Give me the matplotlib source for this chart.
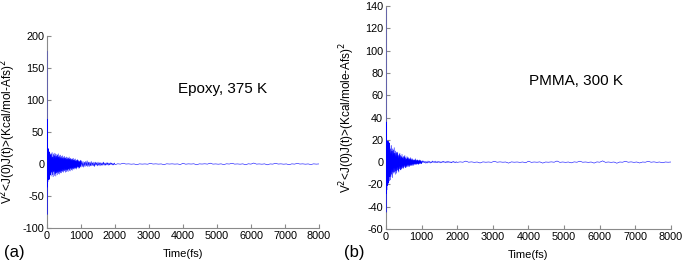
import numpy as np
import matplotlib
matplotlib.use("Agg")
import matplotlib.pyplot as plt

plt.rcParams['font.family'] = ['Liberation Sans', 'DejaVu Sans']
plt.rcParams['axes.unicode_minus'] = False

# ---- datos (a) Epoxy, 375 K ----
t_a_inicio = [0, 2, 5, 8, 12, 16, 20, 25, 30, 35, 40, 45, 50, 55, 60, 65, 70, 75, 80, 85, 90, 95, 100]
v_a_inicio = [176, -79, 70, -36, 26, -33, 22, -28, 20, -25, 18, -22, 24, -20, 17, -18, 15, -24, 19, -14, 16, -17, 14]

t_a_medio = list(range(110, 1001, 10))
v_a_medio = [12, -19, 16, -13, 18, -17, 11, -20, 15, -12,
             17, -18, 13, -15, 16, -19, 12, -14, 15, -17,
             14, -13, 16, -15, 11, -16, 13, -12, 14, -14,
             10, -14, 12, -11, 13, -12, 9, -13, 11, -10,
             12, -11, 9, -13, 10, -9, 11, -12, 8, -10,
             10, -12, 9, -8, 11, -10, 8, -11, 9, -7,
             8, -9, 7, -10, 8, -7, 9, -8, 6, -8,
             7, -6, 8, -7, 5, -8, 6, -6, 7, -5,
             6, -5, 5, -7, 4, -6, 5, -4, 6, -5]

t_a_tarde = list(range(1020, 2001, 20))
v_a_tarde = [5, -4, 4, -5, 3, -4, 4, -3, 5, -4,
             3, -4, 3, -3, 4, -3, 2, -3, 3, -4,
             3, -2, 2, -3, 3, -2, 2, -3, 2, -2,
             2, -2, 3, -2, 1.5, -2, 2, -1.5, 2, -2,
             1.5, -1.5, 2, -1, 1.5, -1.5, 1, -1.5, 1.5, -1]

t_a_final = list(range(2080, 8001, 80))
v_a_final = [0.3, -0.2, 1.2, -0.1, 0.2, -0.3, 0.1, -1.1, 0.2, -0.2,
             0.1, -0.3, 0.9, -0.1, 0.2, -0.2, 0.1, -1.0, 0.3, -0.1,
             0.2, -0.2, 0.1, -0.8, 1.0, -0.3, 0.2, -0.1, 0.3, -1.2,
             0.2, -0.1, 0.3, -0.2, 1.3, -0.2, 0.1, -0.3, 0.2, -0.9,
             0.3, -0.1, 1.1, -0.2, 0.1, -0.3, 0.2, -1.2, 0.3, -0.2,
             1.5, -0.2, 0.1, -0.3, 0.2, -1.3, 0.1, -0.2, 1.0, -0.1,
             0.2, -0.3, 0.1, -1.1, 0.2, -0.2, 0.9, -0.1, 0.2, -0.3,
             0.1, -0.8, 0.2, -0.2, 0.1]

# ---- datos (b) PMMA, 300 K ----
t_b_inicio = [0, 2, 5, 8, 12, 16, 20, 25, 30, 35, 40, 45, 50, 55, 60, 65, 70, 75, 80, 85, 90, 95, 100]
v_b_inicio = [138, -45, 36, -28, 20, -22, 18, -25, 19, -18, 17, -21, 18, -16, 19, -19, 16, -14, 18, -17, 15, -13, 17]

t_b_medio = list(range(110, 1001, 10))
v_b_medio = [14, -16, 12, -13, 15, -11, 10, -14, 12, -9,
             11, -10, 13, -9, 8, -11, 10, -8, 9, -10,
             8, -7, 9, -8, 6, -9, 7, -6, 8, -7,
             6, -7, 5, -6, 7, -5, 4, -6, 5, -5,
             5, -4, 6, -5, 4, -5, 3, -4, 5, -4,
             4, -3, 4, -4, 3, -4, 3, -3, 4, -3,
             3, -3, 2, -3, 3, -2, 2, -3, 2, -2,
             2, -2, 3, -2, 1.5, -2, 2, -1.5, 2, -2,
             1.5, -2, 1.5, -1.5, 2, -1, 1.5, -1.5, 1, -1.5]

t_b_tarde = list(range(1020, 2001, 20))
v_b_tarde = [1.2, -0.6, 1.0, -0.5, 0.7, -1.1, 0.4, -0.8, 1.0, -0.4,
             0.6, -0.9, 0.3, -0.5, 1.0, -0.4, 0.5, -0.3, 0.9, -0.6,
             0.3, -0.5, 0.8, -0.2, 0.4, -0.7, 0.3, -0.4, 0.6, -0.3,
             0.7, -0.2, 0.3, -0.6, 0.4, -0.3, 0.8, -0.2, 0.3, -0.5,
             0.2, -0.6, 0.4, -0.2, 0.6, -0.3, 0.2, -0.5, 0.3, -0.2]

t_b_final = list(range(2080, 8001, 80))
v_b_final = [0.2, -0.1, 0.9, -0.1, 0.2, -0.2, 0.1, -0.8, 0.2, -0.1,
             0.1, -0.2, 0.7, -0.1, 0.2, -0.1, 0.1, -0.9, 0.2, -0.1,
             0.1, -0.2, 0.1, -0.6, 0.8, -0.2, 0.1, -0.1, 0.2, -0.9,
             0.1, -0.1, 0.2, -0.1, 1.0, -0.2, 0.1, -0.2, 0.1, -0.7,
             0.2, -0.1, 0.8, -0.1, 0.1, -0.2, 0.1, -0.9, 0.2, -0.1,
             1.1, -0.2, 0.1, -0.2, 0.1, -1.0, 0.1, -0.1, 0.7, -0.1,
             0.2, -0.2, 0.1, -0.8, 0.1, -0.1, 0.7, -0.1, 0.2, -0.2,
             0.1, -0.6, 0.1, -0.1, 0.1]

t_a = t_a_inicio + t_a_medio + t_a_tarde + t_a_final
v_a = v_a_inicio + v_a_medio + v_a_tarde + v_a_final
t_b = t_b_inicio + t_b_medio + t_b_tarde + t_b_final
v_b = v_b_inicio + v_b_medio + v_b_tarde + v_b_final

gris = '#8a8a8a'
azul = '#0000ff'

fig = plt.figure(figsize=(6.84, 2.66), dpi=100)
ax_a = fig.add_axes([0.0687, 0.1429, 0.3977, 0.7218])
ax_b = fig.add_axes([0.5643, 0.1391, 0.4167, 0.8383])


def estilo(ax):
    ax.spines['top'].set_visible(False)
    ax.spines['right'].set_visible(False)
    ax.spines['left'].set_color(gris)
    ax.spines['bottom'].set_color(gris)
    ax.spines['left'].set_linewidth(0.8)
    ax.spines['bottom'].set_linewidth(0.8)
    ax.tick_params(direction='in', length=3, width=0.8, color=gris,
                   labelsize=7.8, pad=2)
    ax.set_xlim(0, 8000)
    ax.set_xticks(range(0, 8001, 1000))


ax_a.plot(t_a, v_a, color=azul, linewidth=0.4, zorder=3)
estilo(ax_a)
ax_a.set_ylim(-100, 200)
ax_a.set_yticks(range(-100, 201, 50))
ax_a.set_xlabel("Time(fs)", fontsize=8, labelpad=6)
ax_a.set_ylabel("V$^2$<J(0)J(t)>(Kcal/mol-Afs)$^2$", fontsize=8.5)
ax_a.yaxis.set_label_coords(-0.105, 0.5)
ax_a.text(5150, 117, "Epoxy, 375 K", fontsize=11, ha='center', va='center')

ax_b.plot(t_b, v_b, color=azul, linewidth=0.4, zorder=3)
estilo(ax_b)
ax_b.set_ylim(-60, 140)
ax_b.set_yticks(range(-60, 141, 20))
ax_b.set_xlabel("Time(fs)", fontsize=8, labelpad=6)
ax_b.set_ylabel("V$^2$<J(0)J(t)>(Kcal/mole-Afs)$^2$", fontsize=8.5)
ax_b.yaxis.set_label_coords(-0.1, 0.5)
ax_b.text(5340, 73, "PMMA, 300 K", fontsize=11, ha='center', va='center')

fig.text(0.006, 0.035, "(a)", fontsize=12)
fig.text(0.503, 0.035, "(b)", fontsize=12)

fig.savefig("out.png", dpi=100)
